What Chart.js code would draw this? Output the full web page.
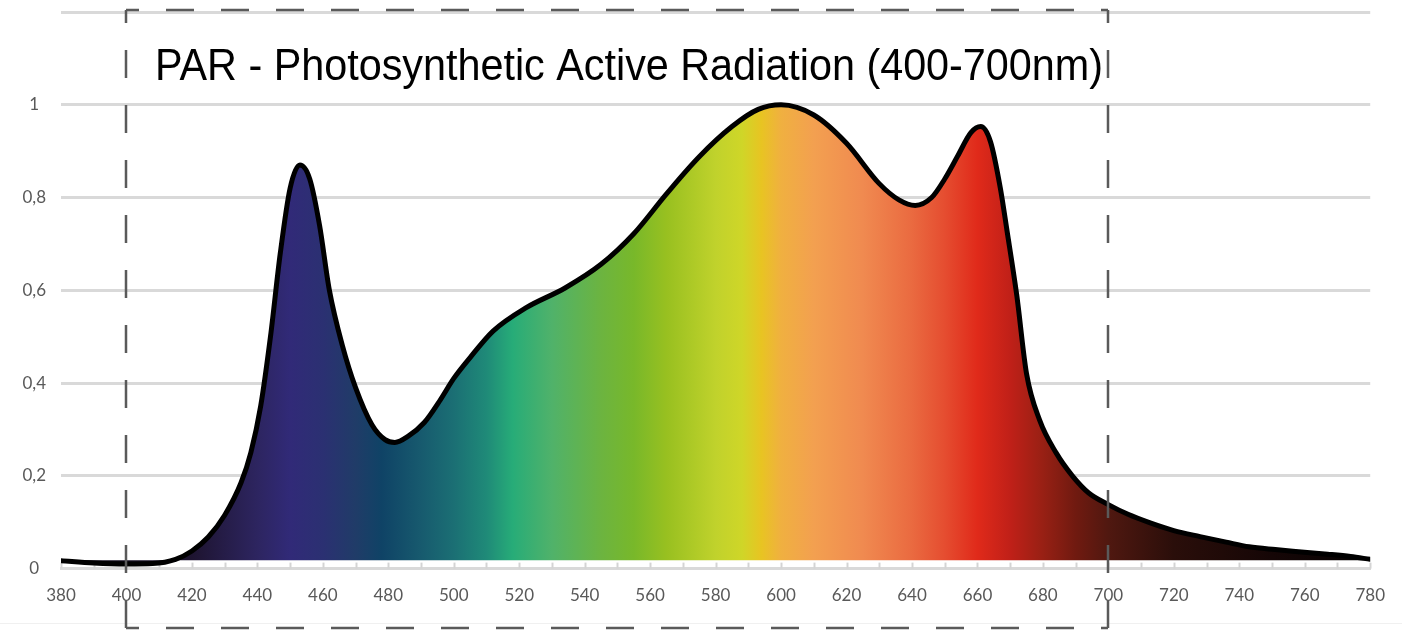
<!DOCTYPE html>
<html>
<head>
<meta charset="utf-8">
<script src="https://cdn.jsdelivr.net/npm/chart.js@4.4.1/dist/chart.umd.min.js"></script>
<style>
  html, body { margin: 0; padding: 0; background: #fff; }
  #wrap { width: 1402px; height: 630px; }
</style>
</head>
<body>
<div id="wrap"><canvas id="parChart" width="1402" height="630"></canvas></div>
<script>
// wavelength (nm) and relative intensity
const wavelengths = [380, 390, 400, 408, 415, 420, 425, 430, 435, 438, 441, 444, 447, 450, 453, 456, 459, 462, 466, 470, 475, 479, 482, 486, 491, 496, 500, 505, 512, 522, 534, 545, 555, 565, 575, 585, 593, 600, 610, 620, 630, 636, 641, 646, 650, 654, 658, 661, 664, 667, 669, 672, 675, 679, 684, 689, 694, 700, 706, 713, 720, 728, 736, 743, 751, 759, 767, 774, 780];
const intensity = [0.017, 0.012, 0.010, 0.011, 0.020, 0.038, 0.068, 0.115, 0.185, 0.25, 0.35, 0.50, 0.68, 0.82, 0.87, 0.84, 0.74, 0.60, 0.48, 0.39, 0.31, 0.278, 0.272, 0.285, 0.315, 0.365, 0.41, 0.455, 0.512, 0.562, 0.605, 0.656, 0.722, 0.808, 0.888, 0.953, 0.99, 1.0, 0.978, 0.917, 0.830, 0.795, 0.783, 0.80, 0.84, 0.89, 0.94, 0.953, 0.92, 0.82, 0.73, 0.59, 0.42, 0.32, 0.25, 0.20, 0.163, 0.138, 0.117, 0.098, 0.082, 0.069, 0.057, 0.047, 0.041, 0.036, 0.031, 0.026, 0.020];

const xMin = 380, xMax = 780, xStep = 20, xMinorStep = 10;
const yMax = 1.2, yStep = 0.2;
const parRange = [400, 700];
const chartTitle = 'PAR - Photosynthetic Active Radiation (400-700nm)';

// spectrum colours for the fill
const specNm = [380, 420, 440, 450, 460, 470, 478, 490, 500, 510, 518, 530, 545, 555, 565, 580, 588, 594, 600, 610, 625, 640, 650, 660, 670, 680, 690, 700, 720, 750, 780];
const specColor = ['#0a0610', '#1e1430', '#2d2560', '#312a78', '#2b3072', '#203c68', '#0f4366', '#175a6e', '#1b6f74', '#1f8a78', '#27ac78', '#50b26a', '#6cb440', '#78b82a', '#98c020', '#c0d22c', '#cfd628', '#e8c422', '#f0b040', '#f3a050', '#f08a50', '#ea6a40', '#e54d30', '#e02a1a', '#c02018', '#982014', '#701a10', '#501810', '#2a0e0a', '#150606', '#050202'];

const points = wavelengths.map((w, i) => ({ x: w, y: intensity[i] }));

function spectrumFill(context) {
  const chart = context.chart;
  const { ctx, chartArea, scales } = chart;
  if (!chartArea) return '#888';
  const x0 = scales.x.getPixelForValue(xMin);
  const x1 = scales.x.getPixelForValue(xMax);
  const g = ctx.createLinearGradient(x0, 0, x1, 0);
  specNm.forEach((nm, i) => g.addColorStop((nm - xMin) / (xMax - xMin), specColor[i]));
  return g;
}

// dashed PAR box, title, minor ticks
const parBox = {
  id: 'parBox',
  beforeDatasetsDraw(chart) {
    const { ctx, scales } = chart;
    const y0 = scales.y.getPixelForValue(0);
    ctx.save();
    ctx.strokeStyle = '#d4d4d4';
    ctx.lineWidth = 2;
    for (let v = xMin; v <= xMax; v += xMinorStep) {
      const x = Math.round(scales.x.getPixelForValue(v)) + 0.5;
      ctx.beginPath();
      ctx.moveTo(x, y0 - 6);
      ctx.lineTo(x, y0);
      ctx.stroke();
    }
    ctx.restore();
  },
  afterDraw(chart) {
    const { ctx, scales, width } = chart;
    const left = Math.round(scales.x.getPixelForValue(parRange[0]));
    const right = Math.round(scales.x.getPixelForValue(parRange[1]));
    const top = 10, bottom = 628;

    ctx.save();
    // faint frame line at the bottom
    ctx.strokeStyle = '#f0f0f0';
    ctx.lineWidth = 1;
    ctx.beginPath();
    ctx.moveTo(0, 623.5);
    ctx.lineTo(width, 623.5);
    ctx.stroke();

    ctx.strokeStyle = '#5a5a5a';
    ctx.lineWidth = 2.5;
    ctx.setLineDash([28, 27]);
    ctx.lineDashOffset = 15;
    const side = (ax, ay, bx, by) => {
      ctx.beginPath();
      ctx.moveTo(ax, ay);
      ctx.lineTo(bx, by);
      ctx.stroke();
    };
    side(left, top, right, top);
    side(left, top, left, bottom);
    side(right, top, right, bottom);
    side(left, bottom, right, bottom);
    ctx.restore();

    // title
    ctx.save();
    ctx.font = '45px "Liberation Sans", Arial, sans-serif';
    ctx.fillStyle = '#000';
    ctx.textBaseline = 'alphabetic';
    const w = ctx.measureText(chartTitle).width;
    const target = 948;
    ctx.translate(155, 80);
    ctx.scale(target / w, 1);
    ctx.fillText(chartTitle, 0, 0);
    ctx.restore();
  }
};

new Chart(document.getElementById('parChart'), {
  type: 'line',
  data: {
    datasets: [{
      data: points,
      borderColor: '#000',
      borderWidth: 5,
      borderJoinStyle: 'round',
      borderCapStyle: 'round',
      backgroundColor: spectrumFill,
      fill: { value: 0.018 },
      pointRadius: 0,
      cubicInterpolationMode: 'monotone'
    }]
  },
  options: {
    responsive: false,
    animation: false,
    layout: { padding: { top: 12, right: 26, bottom: 7, left: 0 } },
    plugins: {
      legend: { display: false },
      tooltip: { enabled: false }
    },
    scales: {
      x: {
        type: 'linear',
        min: xMin,
        max: xMax,
        grid: { drawOnChartArea: false, drawTicks: false },
        border: { display: true, color: '#d9d9d9', width: 3 },
        ticks: {
          stepSize: xStep,
          padding: 17,
          color: '#595959',
          font: { family: 'Lato, "Open Sans", sans-serif', size: 17 }
        }
      },
      y: {
        min: 0,
        max: yMax,
        afterFit(scale) {
          scale.width = 61;
          scale.paddingTop = 0;
        },
        grid: { color: '#d9d9d9', lineWidth: 3, drawTicks: false },
        border: { display: false },
        ticks: {
          stepSize: yStep,
          padding: 15,
          crossAlign: 'center',
          color: '#595959',
          font: { family: 'Lato, "Open Sans", sans-serif', size: 17 },
          callback(v) {
            if (v > 1.01) return '';
            return (Math.round(v * 10) / 10).toString().replace('.', ',');
          }
        }
      }
    }
  },
  plugins: [parBox]
});
</script>
</body>
</html>
